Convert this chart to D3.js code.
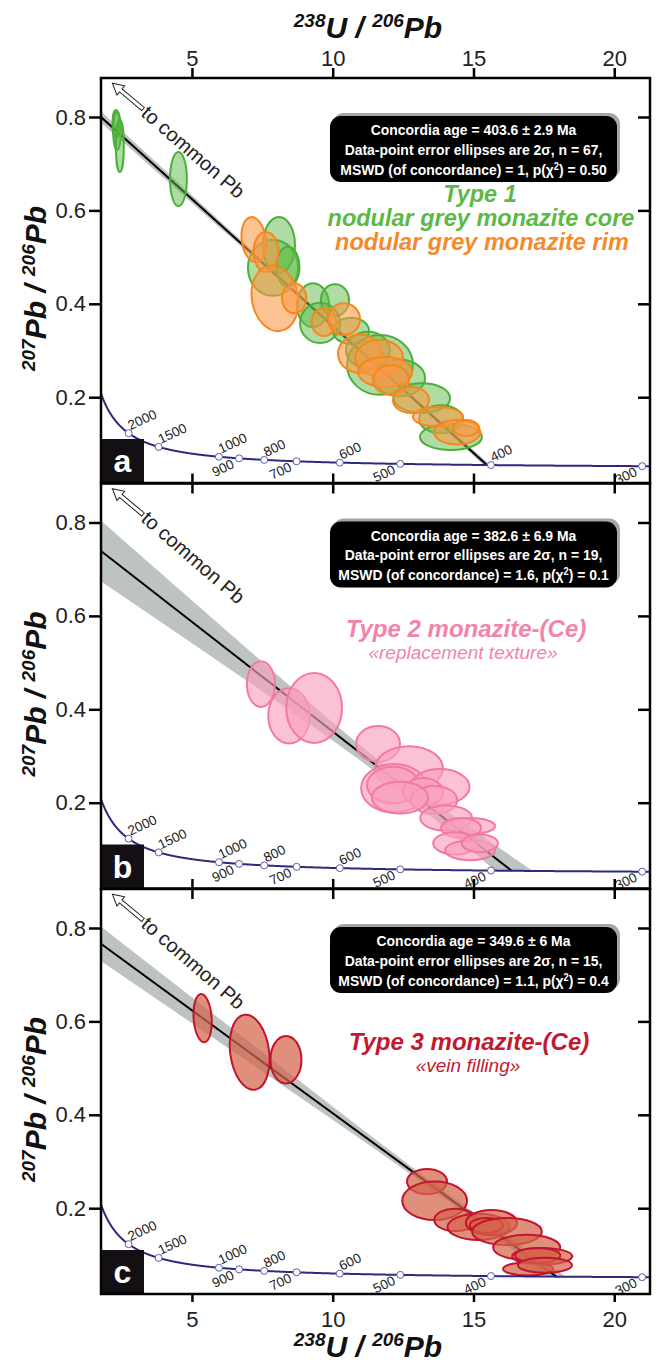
<!DOCTYPE html>
<html>
<head>
<meta charset="utf-8">
<script src="https://cdn.jsdelivr.net/npm/d3@7"></script>
<style>
  body { margin: 0; background: #fff; }
  svg { display: block; font-family: "Liberation Sans", Arial, sans-serif; }
  text { white-space: pre; }
</style>
</head>
<body>
<svg id="chart" width="658" height="1365"></svg>
<script>
// ---------- axis ticks ----------
const xTickValues = [5, 10, 15, 20];
const yTickValues = [0.2, 0.4, 0.6, 0.8];

// ---------- concordia age markers (Ma) ----------
const concordiaMarkerAges = [2000, 1500, 1000, 900, 800, 700, 600, 500, 400, 300];
const belowLabelAges = [
  [900, 700, 500, 300],
  [900, 700, 500, 400, 300],
  [900, 700, 500, 400, 300]
];

// ---------- per-panel regression results ----------
const panelLetters = ["a", "b", "c"];
const concordiaAge = [403.6, 382.6, 349.6];
const concordiaAgeErr = ["2.9", "6.9", "6"];
const ellipseCount = [67, 19, 15];
const mswd = ["1", "1.6", "1.1"];
const pChi2 = ["0.50", "0.1", "0.4"];
const commonPbIntercept = [0.896, 0.822, 0.844];   // 207Pb/206Pb at 238U/206Pb = 0
// confidence envelope half-width: sqrt(a^2 + (b (x - x0))^2)
const envelopeA = [0.004, 0.015, 0.008];
const envelopeB = [0.00123, 0.00618, 0.00295];
const envelopeX0 = [11, 12, 14];

// ---------- 2-sigma error ellipses ----------
// [238U/206Pb, 207Pb/206Pb, half-axis in x, half-axis in y, tilt (deg)]
const type1Core = [
  [2.30, 0.785, 0.12, 0.030, 0],
  [2.34, 0.770, 0.14, 0.041, 0],
  [2.44, 0.738, 0.14, 0.056, 0],
  [4.52, 0.667, 0.30, 0.058, 0],
  [8.09, 0.526, 0.57, 0.060, 0],
  [7.88, 0.477, 0.89, 0.060, 0],
  [8.41, 0.479, 0.41, 0.043, 0],
  [9.30, 0.397, 0.57, 0.047, 0],
  [9.55, 0.359, 0.71, 0.043, 0],
  [10.08, 0.408, 0.50, 0.034, 0],
  [10.65, 0.342, 0.64, 0.028, 0],
  [11.25, 0.301, 0.78, 0.039, 0],
  [11.68, 0.269, 1.17, 0.064, 0],
  [12.39, 0.241, 0.89, 0.039, 0],
  [13.17, 0.198, 1.00, 0.032, 0],
  [13.85, 0.153, 0.78, 0.030, 0],
  [14.20, 0.115, 1.10, 0.028, 0]
];
const type1Rim = [
  [7.20, 0.537, 0.43, 0.049, -8],
  [7.63, 0.511, 0.44, 0.043, 0],
  [7.95, 0.412, 0.82, 0.071, -10],
  [8.63, 0.412, 0.43, 0.032, 0],
  [9.69, 0.361, 0.44, 0.030, 0],
  [10.40, 0.367, 0.57, 0.034, 0],
  [10.97, 0.293, 0.78, 0.041, 0],
  [11.65, 0.284, 0.85, 0.039, 0],
  [11.86, 0.254, 0.96, 0.032, 0],
  [12.07, 0.237, 0.64, 0.032, 0],
  [12.78, 0.194, 0.64, 0.028, 0],
  [13.74, 0.158, 0.89, 0.021, 0],
  [14.42, 0.125, 0.82, 0.026, 0],
  [14.74, 0.134, 0.46, 0.017, 0]
];
const type2 = [
  [7.45, 0.454, 0.50, 0.049, 0],
  [8.45, 0.386, 0.74, 0.059, 0],
  [9.34, 0.403, 0.99, 0.075, 0],
  [11.61, 0.326, 0.78, 0.038, 0],
  [12.71, 0.274, 1.20, 0.047, 0],
  [12.18, 0.231, 1.17, 0.052, 0],
  [12.14, 0.238, 0.92, 0.039, 0],
  [13.81, 0.234, 1.05, 0.038, 0],
  [13.21, 0.223, 0.71, 0.030, 0],
  [13.60, 0.206, 0.82, 0.030, 0],
  [12.39, 0.211, 1.00, 0.034, 0],
  [14.03, 0.167, 0.92, 0.027, 0],
  [14.88, 0.150, 0.89, 0.017, 0],
  [14.56, 0.146, 0.71, 0.021, 0],
  [14.35, 0.113, 0.78, 0.024, 0],
  [14.88, 0.098, 0.89, 0.021, 0],
  [15.23, 0.113, 0.64, 0.019, 0]
];
const type3 = [
  [5.38, 0.607, 0.32, 0.052, -4],
  [7.05, 0.534, 0.69, 0.081, -8],
  [8.34, 0.518, 0.55, 0.051, 0],
  [13.35, 0.257, 0.71, 0.027, 0],
  [13.62, 0.216, 1.15, 0.041, 0],
  [14.36, 0.175, 0.75, 0.024, 0],
  [15.18, 0.160, 1.10, 0.028, 0],
  [15.64, 0.169, 0.91, 0.027, 0],
  [15.46, 0.163, 0.59, 0.016, 0],
  [16.19, 0.150, 1.24, 0.029, 0],
  [16.89, 0.116, 1.19, 0.027, 0],
  [17.44, 0.097, 1.07, 0.018, 0],
  [17.28, 0.099, 0.80, 0.016, 0],
  [16.94, 0.070, 0.89, 0.014, 0],
  [17.54, 0.078, 0.96, 0.016, 0]
];

// ---------- layout ----------
const svg = d3.select("#chart");
const pxLeft = 101, pxRight = 650, panelH = 405;
const panelTop = [78, 483.5, 889];
const x = d3.scaleLinear().domain([1.77, 21.27]).range([pxLeft, pxRight]);
const yDomain = [0.0163, 0.8835];

// Tera-Wasserburg concordia
const L238 = 1.55125e-10, L235 = 9.8485e-10, U238_235 = 137.88;
function teraWasserburg(ageMa) {
  const t = ageMa * 1e6;
  const e8 = Math.exp(L238 * t) - 1, e5 = Math.exp(L235 * t) - 1;
  return [1 / e8, e5 / (U238_235 * e8)];
}
function concordiaYAt(xv) {
  const t = Math.log(1 + 1 / xv) / L238;
  return xv * (Math.exp(L235 * t) - 1) / U238_235;
}

const ellipseSets = [
  [{ data: type1Core, fill: "#5dba48", stroke: "#4dae3b", op: 0.5 },
   { data: type1Rim, fill: "#fc9845", stroke: "#f7861d", op: 0.58 }],
  [{ data: type2, fill: "#f99fbd", stroke: "#f27aa1", op: 0.65 }],
  [{ data: type3, fill: "#d4644b", stroke: "#c3142e", op: 0.72 }]
];

const legends = [
  [
    { t: "Type 1", c: "#5cb946", s: 23.5, dy: 124, cx: 480, main: true },
    { t: "nodular grey monazite core", c: "#5cb946", s: 23.5, dy: 148, cx: 481, main: true },
    { t: "nodular grey monazite rim", c: "#f7892a", s: 23.5, dy: 172, cx: 482, main: true }
  ],
  [
    { t: "Type 2 monazite-(Ce)", c: "#f283ab", s: 24, dy: 153.5, cx: 466, main: true },
    { t: "«replacement texture»", c: "#f283ab", s: 19, dy: 175.5, cx: 463, main: false }
  ],
  [
    { t: "Type 3 monazite-(Ce)", c: "#c2192f", s: 24, dy: 161, cx: 469, main: true },
    { t: "«vein filling»", c: "#c2192f", s: 19, dy: 183, cx: 468, main: false }
  ]
];

const defs = svg.append("defs");

// "207Pb / 206Pb"-style title with superscript mass numbers
function isotopeTitle(sel, sup1, main1, sup2, main2) {
  sel.append("tspan").attr("font-size", 19).attr("dy", -11).text(sup1);
  sel.append("tspan").attr("font-size", 30).attr("dy", 11).text(main1);
  sel.append("tspan").attr("font-size", 19).attr("dy", -11).text(sup2);
  sel.append("tspan").attr("font-size", 30).attr("dy", 11).text(main2);
}

panelLetters.forEach((letter, i) => {
  const top = panelTop[i], bottom = top + panelH;
  const y = d3.scaleLinear().domain(yDomain).range([bottom, top]);
  const g = svg.append("g");

  const clipId = "clip-" + letter;
  defs.append("clipPath").attr("id", clipId)
    .append("rect").attr("x", pxLeft).attr("y", top)
    .attr("width", pxRight - pxLeft).attr("height", panelH);
  const plot = g.append("g").attr("clip-path", `url(#${clipId})`);

  // regression line towards common Pb with its envelope
  const [xc, yc] = teraWasserburg(concordiaAge[i]);
  const y0 = commonPbIntercept[i];
  const slope = (yc - y0) / xc;
  const lineY = v => y0 + slope * v;
  const hw = v => Math.sqrt(envelopeA[i] ** 2 + (envelopeB[i] * (v - envelopeX0[i])) ** 2);
  const xs = d3.range(x.domain()[0], xc + 2, 0.02);
  plot.append("path")
    .attr("d", d3.area()
      .x(v => x(v))
      .y0(v => y(Math.max(lineY(v) - hw(v), concordiaYAt(v))))
      .y1(v => y(Math.max(lineY(v) + hw(v), concordiaYAt(v))))(xs))
    .attr("fill", "#bcc3c1");
  plot.append("line")
    .attr("x1", x(x.domain()[0])).attr("y1", y(lineY(x.domain()[0])))
    .attr("x2", x(xc)).attr("y2", y(yc))
    .attr("stroke", "#000").attr("stroke-width", 2);

  // error ellipses
  ellipseSets[i].forEach(set => {
    plot.append("g").selectAll("ellipse").data(set.data).join("ellipse")
      .attr("cx", 0).attr("cy", 0)
      .attr("rx", d => x(x.domain()[0] + d[2]) - x(x.domain()[0]))
      .attr("ry", d => y(yDomain[0]) - y(yDomain[0] + d[3]))
      .attr("transform", d => `translate(${x(d[0])},${y(d[1])}) rotate(${d[4]})`)
      .attr("fill", set.fill).attr("fill-opacity", set.op)
      .attr("stroke", set.stroke).attr("stroke-width", 2);
  });

  // concordia curve
  const ages = d3.range(280, 3400, 2);
  plot.append("path")
    .attr("d", d3.line().x(a => x(teraWasserburg(a)[0])).y(a => y(teraWasserburg(a)[1]))(ages))
    .attr("fill", "none").attr("stroke", "#2d2a7e").attr("stroke-width", 2);

  const markers = plot.append("g");
  concordiaMarkerAges.forEach(a => {
    const [mx, my] = teraWasserburg(a);
    const px = x(mx), py = y(my);
    const below = belowLabelAges[i].includes(a);
    markers.append("circle").attr("cx", px).attr("cy", py).attr("r", 3.5)
      .attr("fill", "#fff").attr("stroke", "#5e5cab").attr("stroke-width", 1);
    const lx = below ? px - 4 : px + 2;
    const ly = below ? py + 9 : py - 3;
    markers.append("text")
      .attr("transform", `translate(${lx},${ly}) rotate(-25)`)
      .attr("text-anchor", below ? "end" : "start")
      .attr("font-size", 13.5).attr("fill", "#222").text(a);
  });

  // panel letter
  g.append("rect").attr("x", pxLeft).attr("y", bottom - 44).attr("width", 43).attr("height", 44)
    .attr("fill", "#140f15");
  g.append("text").attr("x", pxLeft + 21.5).attr("y", bottom - 11)
    .attr("text-anchor", "middle").attr("font-size", 32).attr("font-weight", "bold")
    .attr("fill", "#fff").text(letter);

  // frame
  g.append("rect").attr("x", pxLeft).attr("y", top).attr("width", pxRight - pxLeft).attr("height", panelH)
    .attr("fill", "none").attr("stroke", "#000").attr("stroke-width", 2.5);

  // y axes
  const yAxisL = g.append("g").attr("transform", `translate(${pxLeft},0)`)
    .call(d3.axisLeft(y).tickValues(yTickValues).tickSize(12).tickPadding(3).tickFormat(d3.format(".1f")));
  yAxisL.select(".domain").remove();
  yAxisL.selectAll("line").attr("stroke", "#000").attr("stroke-width", 2.5);
  yAxisL.selectAll("text").attr("font-size", 22).attr("fill", "#222")
    .attr("font-family", "'Liberation Sans', Arial, sans-serif");

  const yAxisR = g.append("g").attr("transform", `translate(${pxRight},0)`)
    .call(d3.axisRight(y).tickValues(yTickValues).tickSize(-12).tickFormat(""));
  yAxisR.select(".domain").remove();
  yAxisR.selectAll("line").attr("stroke", "#000").attr("stroke-width", 2.5);

  // x ticks on panel boundaries
  if (i > 0) {
    [d3.axisTop(x), d3.axisBottom(x)].forEach(ax => {
      const a = g.append("g").attr("transform", `translate(0,${top})`)
        .call(ax.tickValues(xTickValues).tickSize(10).tickFormat(""));
      a.select(".domain").remove();
      a.selectAll("line").attr("stroke", "#000").attr("stroke-width", 2.5);
    });
  }

  // y title
  const yt = g.append("text")
    .attr("transform", `translate(46,${top + panelH / 2 + 8}) rotate(-90)`)
    .attr("text-anchor", "middle").attr("font-weight", "bold").attr("font-style", "italic")
    .attr("fill", "#111");
  isotopeTitle(yt, "207", "Pb / ", "206", "Pb");

  // common-Pb arrow and label
  const arrowLen = 40;
  g.append("polygon")
    .attr("points", [[0, -2], [arrowLen - 11, -2], [arrowLen - 11, -6], [arrowLen, 0],
      [arrowLen - 11, 6], [arrowLen - 11, 2], [0, 2]].map(p => p.join(",")).join(" "))
    .attr("transform", `translate(143,${top + 31}) rotate(-140)`)
    .attr("fill", "#fff").attr("stroke", "#222").attr("stroke-width", 1);
  g.append("text")
    .attr("transform", `translate(140,${top + 37}) rotate(41)`)
    .attr("font-size", 20).attr("fill", "#222").text("to common Pb");

  // result box
  const bx = 330, by = top + 38, bw = 287, bh = 66;
  g.append("rect").attr("x", bx + 3).attr("y", by - 3).attr("width", bw).attr("height", bh)
    .attr("rx", 11).attr("fill", "#a6a6a6");
  g.append("rect").attr("x", bx).attr("y", by).attr("width", bw).attr("height", bh)
    .attr("rx", 11).attr("fill", "#000");
  const boxLine = (dy) => g.append("text")
    .attr("transform", `translate(${bx + bw / 2},${by + dy}) scale(0.93,1)`)
    .attr("text-anchor", "middle").attr("font-size", 15).attr("font-weight", "bold").attr("fill", "#fff");
  boxLine(19).text(`Concordia age = ${concordiaAge[i]} ± ${concordiaAgeErr[i]} Ma`);
  boxLine(38.5).text(`Data-point error ellipses are 2σ, n = ${ellipseCount[i]},`);
  const l3 = boxLine(58.5);
  l3.append("tspan").text(`MSWD (of concordance) = ${mswd[i]}, p(χ`);
  l3.append("tspan").attr("font-size", 10).attr("dy", -5).text("2");
  l3.append("tspan").attr("dy", 5).text(`) = ${pChi2[i]}`);

  // legend
  legends[i].forEach(L => {
    g.append("text").attr("x", L.cx).attr("y", top + L.dy)
      .attr("text-anchor", "middle").attr("font-size", L.s)
      .attr("font-weight", L.main ? "bold" : "normal").attr("font-style", "italic")
      .attr("fill", L.c).text(L.t);
  });
});

// outer x axes
const topAxis = svg.append("g").attr("transform", `translate(0,${panelTop[0]})`)
  .call(d3.axisTop(x).tickValues(xTickValues).tickSize(10).tickPadding(2));
const bottomAxis = svg.append("g").attr("transform", `translate(0,${panelTop[2] + panelH})`)
  .call(d3.axisBottom(x).tickValues(xTickValues).tickSize(8).tickPadding(9));
[topAxis, bottomAxis].forEach(a => {
  a.select(".domain").remove();
  a.selectAll("line").attr("stroke", "#000").attr("stroke-width", 2.5);
  a.selectAll("text").attr("font-size", 22).attr("fill", "#222")
    .attr("font-family", "'Liberation Sans', Arial, sans-serif");
});

// x titles
[38, 1357].forEach(yy => {
  const t = svg.append("text").attr("x", 368).attr("y", yy)
    .attr("text-anchor", "middle").attr("font-weight", "bold").attr("font-style", "italic")
    .attr("fill", "#111");
  isotopeTitle(t, "238", "U / ", "206", "Pb");
});
</script>
</body>
</html>
